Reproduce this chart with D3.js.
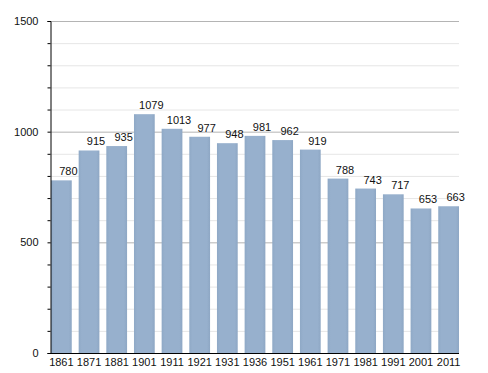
<!DOCTYPE html>
<html>
<head>
<meta charset="utf-8">
<script src="https://cdn.jsdelivr.net/npm/d3@7"></script>
<style>
  body { margin: 0; background: #fff; }
  text { font-family: "Liberation Sans", Arial, sans-serif; }
</style>
</head>
<body>
<svg id="chart"></svg>
<script>
// annees du recensement et population
const years = ["1861", "1871", "1881", "1901", "1911", "1921", "1931", "1936", "1951", "1961", "1971", "1981", "1991", "2001", "2011"];
const population = [780, 915, 935, 1079, 1013, 977, 948, 981, 962, 919, 788, 743, 717, 653, 663];
const yTicks = [0, 500, 1000, 1500];
const minorTicks = d3.range(0, 1501, 100);

const width = 488;
const height = 373;
const mLeft = 50, mRight = 459, mTop = 21, mBottom = 353;

const svg = d3.select("#chart")
  .attr("width", width)
  .attr("height", height);

const x = d3.scaleBand()
  .domain(years)
  .range([mLeft + 1, mRight])
  .paddingInner(0.25)
  .paddingOuter(0);

const y = d3.scaleLinear()
  .domain([0, 1500])
  .range([mBottom, mTop]);

// grille legere tous les 100
svg.append("g")
  .selectAll("line")
  .data(minorTicks.filter(d => d % 500 !== 0))
  .join("line")
  .attr("x1", mLeft).attr("x2", mRight)
  .attr("y1", d => y(d) + 0.5).attr("y2", d => y(d) + 0.5)
  .attr("stroke", "#e6e6e6");

svg.append("g")
  .selectAll("line")
  .data(yTicks.filter(d => d > 0))
  .join("line")
  .attr("x1", mLeft).attr("x2", mRight)
  .attr("y1", d => y(d) + 0.5).attr("y2", d => y(d) + 0.5)
  .attr("stroke", "#b4b4b4");

// barres
const defs = svg.append("defs");
const grad = defs.append("linearGradient").attr("id", "barGrad");
grad.append("stop").attr("offset", "0%").attr("stop-color", "#8fa9c6");
grad.append("stop").attr("offset", "15%").attr("stop-color", "#97b0cd");
grad.append("stop").attr("offset", "85%").attr("stop-color", "#97b0cd");
grad.append("stop").attr("offset", "100%").attr("stop-color", "#8ea7c4");

svg.append("g")
  .selectAll("rect")
  .data(population)
  .join("rect")
  .attr("x", (d, i) => x(years[i]))
  .attr("y", d => y(d))
  .attr("width", x.bandwidth())
  .attr("height", d => mBottom - y(d))
  .attr("fill", "url(#barGrad)");

svg.append("g")
  .selectAll("text")
  .data(population)
  .join("text")
  .attr("x", (d, i) => x(years[i]) + x.bandwidth() / 2 + 7)
  .attr("y", d => y(d) - 5)
  .attr("text-anchor", "middle")
  .attr("font-size", 11)
  .attr("fill", "#111")
  .text(d => d);

// axes
const yAxis = d3.axisLeft(y).tickValues(minorTicks).tickSize(3).tickFormat(d => yTicks.includes(d) ? d : "");
svg.append("g")
  .attr("transform", `translate(${mLeft + 0.5},0)`)
  .call(yAxis)
  .call(g => g.select(".domain").attr("stroke", "#000"))
  .call(g => g.selectAll("text").attr("font-size", 11).attr("fill", "#111").attr("x", -12).attr("font-family", "Liberation Sans, Arial, sans-serif"));

const xAxis = d3.axisBottom(x).tickSize(0).tickPadding(5);
svg.append("g")
  .attr("transform", `translate(0,${mBottom + 0.5})`)
  .call(xAxis)
  .call(g => g.select(".domain").attr("stroke", "#000").attr("d", `M${mLeft},0H${mRight}`))
  .call(g => g.selectAll("text").attr("font-size", 11).attr("fill", "#111").attr("font-family", "Liberation Sans, Arial, sans-serif"));
</script>
</body>
</html>
